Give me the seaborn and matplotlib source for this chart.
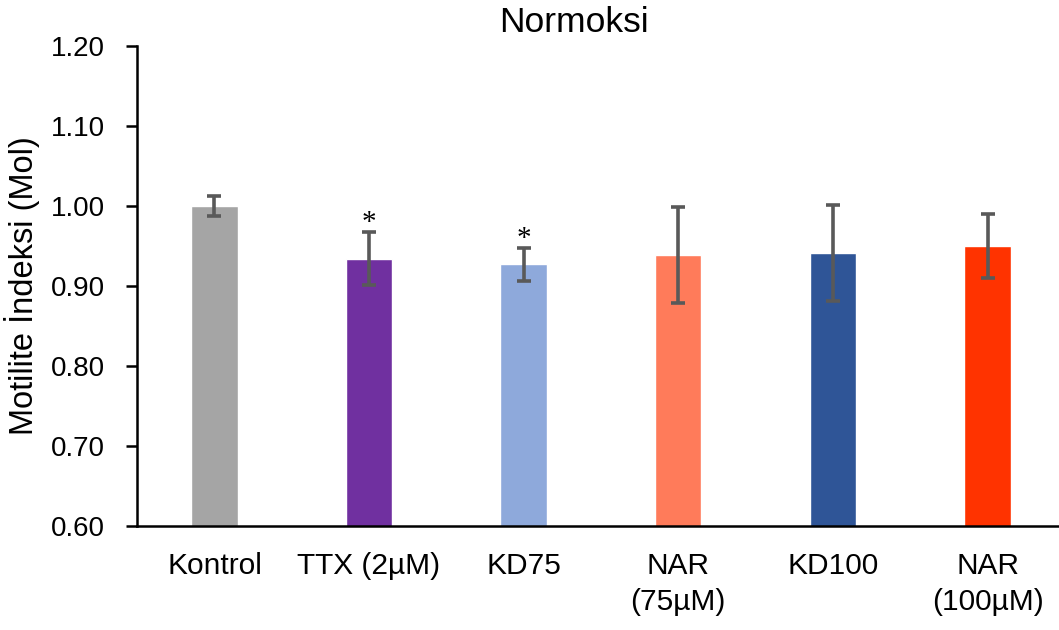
import matplotlib
matplotlib.use("Agg")
import matplotlib.pyplot as plt
import seaborn as sns
import pandas as pd

groups = ["Kontrol", "TTX (2µM)", "KD75", "NAR\n(75µM)", "KD100", "NAR\n(100µM)"]
means = [1.000, 0.934, 0.927, 0.939, 0.941, 0.950]
errors = [0.012, 0.033, 0.021, 0.060, 0.060, 0.040]
colors = ["#A5A5A5", "#7030A0", "#8EA9DB", "#FF7B5A", "#2F5597", "#FF3300"]
significant = [False, True, True, False, False, False]

sns.set_theme(style="white")
plt.rcParams["font.family"] = ["Liberation Sans", "DejaVu Sans"]
for key in ["text.color", "axes.labelcolor", "xtick.color", "ytick.color"]:
    plt.rcParams[key] = "black"

df = pd.DataFrame({"group": groups, "mean": means})

fig = plt.figure(figsize=(10.59, 6.30), dpi=100)
ax = fig.add_axes([0.1295, 0.165, 0.876, 0.762])

sns.barplot(data=df, x="group", y="mean", hue="group", palette=colors,
            legend=False, width=0.3, ax=ax, errorbar=None, saturation=1)

xs = range(len(groups))
ax.errorbar(xs, means, yerr=errors, fmt="none", ecolor="#595959",
            elinewidth=2.6, capsize=5, capthick=2.6, zorder=5)

for x, m, e, s in zip(xs, means, errors, significant):
    if s:
        ax.text(x, m + e - 0.005, "*", ha="center", va="bottom",
                fontsize=21, family="Liberation Serif", color="black")

ax.set_ylim(0.60, 1.20)
ax.set_xlim(-0.5, 5.5)
ax.set_yticks([0.60, 0.70, 0.80, 0.90, 1.00, 1.10, 1.20])
ax.set_yticklabels([f"{v:.2f}" for v in ax.get_yticks()], fontsize=20)
ax.tick_params(axis="x", labelsize=21.5, length=0, pad=19)
ax.tick_params(axis="y", left=True, length=8, width=1.8, color="black", pad=15)
for lbl in ax.get_xticklabels():
    lbl.set_linespacing(1.35)
ax.set_xlabel("")
ax.set_ylabel("Motilite İndeksi (Mol)", fontsize=23.5, labelpad=8)

for side in ["top", "right"]:
    ax.spines[side].set_visible(False)
for side in ["left", "bottom"]:
    ax.spines[side].set_color("black")
    ax.spines[side].set_linewidth(1.8)

fig.text(574 / 1059, 1 - 23 / 630, "Normoksi", ha="center", va="center", fontsize=25.5)

fig.savefig("out.png", dpi=100)
